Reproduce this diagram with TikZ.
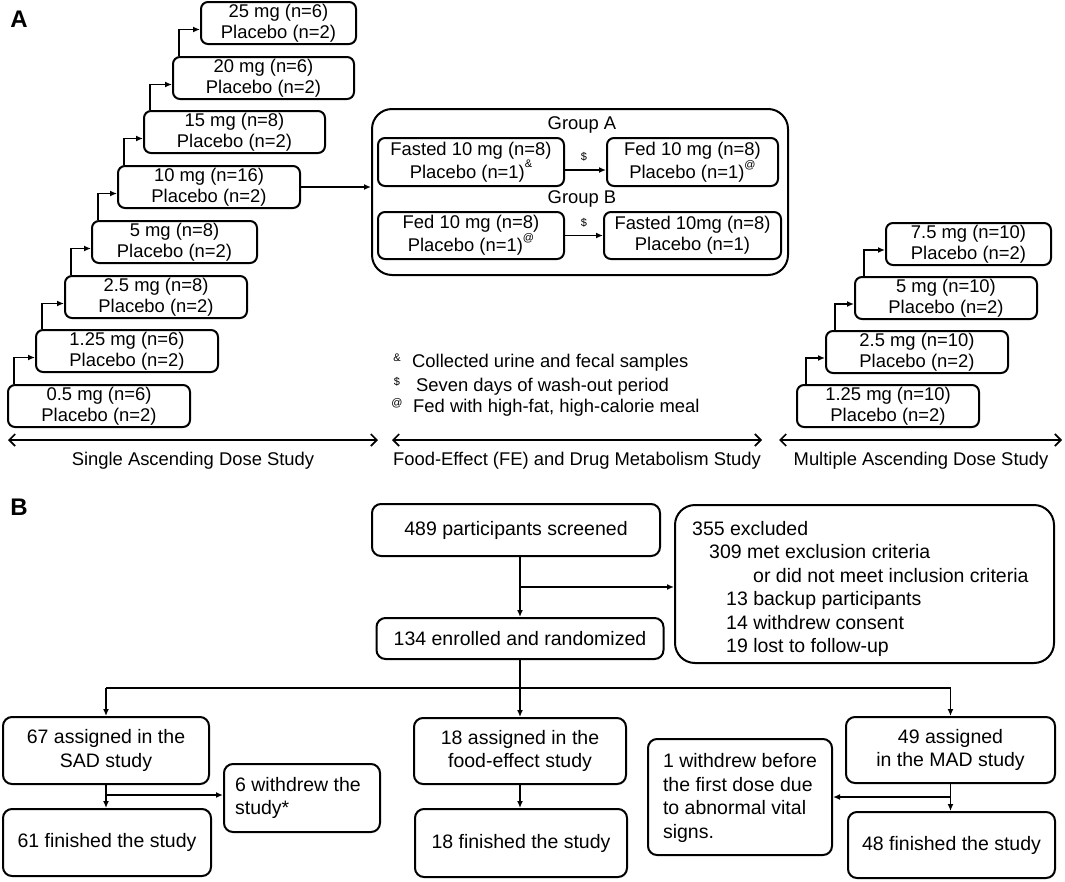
\documentclass[tikz,border=0pt]{standalone}
\usepackage{fontspec}
\setmainfont{Liberation Sans}
\usetikzlibrary{arrows.meta}
\newcommand\fa{\fontsize{18.4}{21}\selectfont}
\newcommand\fb{\fontsize{19.5}{23.5}\selectfont}
\newcommand\fsm{\fontsize{11}{11}\selectfont}
\newcommand\sps[1]{\raisebox{0.55em}{\fsm #1}}
\begin{document}
\begin{tikzpicture}[x=1pt,y=-1pt,
  abox/.style={draw, line width=2pt, rounded corners=7pt, inner sep=0pt, align=center, font=\fa},
  bbox/.style={draw, line width=2pt, rounded corners=9pt, inner sep=0pt, align=center, font=\fb},
  bigbox/.style={draw, line width=2pt, rounded corners=20pt, inner sep=0pt},
  arr/.style={line width=1.7pt, -{Latex[length=7pt,width=6pt]}},
  ln/.style={line width=1.7pt},
  dbl/.style={line width=1.7pt, {Straight Barb[length=6pt,width=12pt]}-{Straight Barb[length=6pt,width=12pt]}},
  lab/.style={font=\fa, inner sep=0pt},
  tiny/.style={font=\fsm, inner sep=0pt}]
\useasboundingbox (0,0) rectangle (1065,881);
\node[font=\bfseries\fontsize{24}{24}\selectfont, inner sep=0pt] (labA) at (19,19) {A};
\node[font=\bfseries\fontsize{24}{24}\selectfont, inner sep=0pt] (labB) at (19,507) {B};
% SAD staircase
\node[abox, minimum width=182pt, minimum height=42pt] (s1) at (99,406) {0.5 mg (n=6)\\Placebo (n=2)};
\node[abox, minimum width=182pt, minimum height=42pt] (s2) at (127,351) {1.25 mg (n=6)\\Placebo (n=2)};
\node[abox, minimum width=182pt, minimum height=42pt] (s3) at (156,297) {2.5 mg (n=8)\\Placebo (n=2)};
\node[abox, minimum width=165pt, minimum height=42pt] (s4) at (174.5,242) {5 mg (n=8)\\Placebo (n=2)};
\node[abox, minimum width=182pt, minimum height=42pt] (s5) at (209,187) {10 mg (n=16)\\Placebo (n=2)};
\node[abox, minimum width=181pt, minimum height=42pt] (s6) at (234.5,132) {15 mg (n=8)\\Placebo (n=2)};
\node[abox, minimum width=181pt, minimum height=42pt] (s7) at (263.5,78) {20 mg (n=6)\\Placebo (n=2)};
\node[abox, minimum width=155pt, minimum height=42pt] (s8) at (278.5,23) {25 mg (n=6)\\Placebo (n=2)};
\foreach \a/\b in {s1/s2,s2/s3,s3/s4,s4/s5,s5/s6,s6/s7,s7/s8}
  \draw[arr] ([xshift=7pt]\a.north west) |- ([yshift=-6.5pt]\b.west);
% Group box
\node[bigbox, minimum width=416pt, minimum height=166pt] (g) at (580,192) {};
\node[lab] (gA) at (582,125) {Group A};
\node[lab] (gB) at (582,199) {Group B};
\node[abox, minimum width=186pt, minimum height=48pt] (ga1) at (471,162) {Fasted 10 mg (n=8)\\Placebo (n=1)\sps{\&}};
\node[abox, minimum width=171pt, minimum height=48pt] (ga2) at (692.5,162) {Fed 10 mg (n=8)\\Placebo (n=1)\sps{@}};
\node[abox, minimum width=186pt, minimum height=47pt] (gb1) at (471,235.5) {Fed 10 mg (n=8)\\Placebo (n=1)\sps{@}};
\node[abox, minimum width=177pt, minimum height=47pt] (gb2) at (692.5,235.5) {Fasted 10mg (n=8)\\Placebo (n=1)};
\draw[arr] (s5.east) -- (s5.east -| g.west);
\draw[arr] ([yshift=-8pt]ga1.east) -- ([yshift=-8pt]ga1.east -| ga2.west);
\draw[arr] (gb1.east) -- (gb1.east -| gb2.west);
\node[tiny] (d1) at (584,157) {\$};
\node[tiny] (d2) at (584,223) {\$};
% footnotes
\node[tiny] (f1s) at (397,358) {\&};
\node[lab, anchor=west] (f1) at (412,363) {Collected urine and fecal samples};
\node[tiny] (f2s) at (397,382) {\$};
\node[lab, anchor=west] (f2) at (416,387) {Seven days of wash-out period};
\node[tiny] (f3s) at (397,403) {@};
\node[lab, anchor=west] (f3) at (413,408) {Fed with high-fat, high-calorie meal};
% MAD staircase
\node[abox, minimum width=182pt, minimum height=42pt] (m1) at (888,406) {1.25 mg (n=10)\\Placebo (n=2)};
\node[abox, minimum width=182pt, minimum height=42pt] (m2) at (917,352) {2.5 mg (n=10)\\Placebo (n=2)};
\node[abox, minimum width=182pt, minimum height=42pt] (m3) at (946,298) {5 mg (n=10)\\Placebo (n=2)};
\node[abox, minimum width=165pt, minimum height=42pt] (m4) at (968.5,244) {7.5 mg (n=10)\\Placebo (n=2)};
\foreach \a/\b in {m1/m2,m2/m3,m3/m4}
  \draw[arr] ([xshift=10pt]\a.north west) |- ([yshift=-6pt]\b.west);
% axes
\coordinate (a1l) at (8,440); \coordinate (a1r) at (378,440);
\coordinate (a2l) at (392,440); \coordinate (a2r) at (762,440);
\coordinate (a3l) at (779,440); \coordinate (a3r) at (1062,440);
\draw[dbl] (a1l) -- (a1r);
\draw[dbl] (a2l) -- (a2r);
\draw[dbl] (a3l) -- (a3r);
\node[lab] (t1) at (193,461) {Single Ascending Dose Study};
\node[lab] (t2) at (577,461) {Food-Effect (FE) and Drug Metabolism Study};
\node[lab] (t3) at (921,461) {Multiple Ascending Dose Study};
% Part B
\node[bbox, minimum width=288pt, minimum height=52pt] (scr) at (516,530) {489 participants screened};
\node[bigbox, minimum width=379pt, minimum height=158pt] (exc) at (864.5,584) {};
\node[font=\fb, align=left, anchor=west, inner sep=0pt] (exct) at (692,589) {355 excluded\\\hspace*{17pt}309 met exclusion criteria\\\hspace*{61pt}or did not meet inclusion criteria\\\hspace*{34pt}13 backup participants\\\hspace*{34pt}14 withdrew consent\\\hspace*{34pt}19 lost to follow-up};
\node[bbox, minimum width=287pt, minimum height=41pt] (enr) at (520,638.5) {134 enrolled and randomized};
\node[bbox, minimum width=206pt, minimum height=67pt] (sad) at (106,750.5) {67 assigned in the\\SAD study};
\node[bbox, minimum width=208pt, minimum height=67pt] (sadf) at (107,842.5) {61 finished the study};
\node[bbox, minimum width=156pt, minimum height=68pt] (sadw) at (302,798) {};
\node[font=\fb, align=left, inner sep=0pt] (sadwt) at (298,798) {6 withdrew the\\study*};
\node[bbox, minimum width=212pt, minimum height=66pt] (fe) at (520,751) {18 assigned in the\\food-effect study};
\node[bbox, minimum width=212pt, minimum height=68pt] (fef) at (521,843) {18 finished the study};
\node[bbox, minimum width=184pt, minimum height=116pt] (madw) at (740,797) {};
\node[font=\fb, align=left, inner sep=0pt] (madwt) at (740,798) {1 withdrew before\\the first dose due\\to abnormal vital\\signs.};
\node[bbox, minimum width=209pt, minimum height=66pt] (mad) at (950.5,750) {49 assigned\\in the MAD study};
\node[bbox, minimum width=207pt, minimum height=66pt] (madf) at (951.5,845) {48 finished the study};
\coordinate (yexc) at (0,587);
\coordinate (ybr) at (0,688);
\coordinate (ysw) at (0,795);
\coordinate (ymw) at (0,797);
\draw[arr] (scr.south -| enr.north) -- (enr.north);
\draw[arr] (enr.north |- yexc) -- (exc.west |- yexc);
\draw[arr] (enr.south) -- (fe.north);
\draw[ln] (sad.north |- ybr) -- (mad.north |- ybr);
\draw[arr] (sad.north |- ybr) -- (sad.north);
\draw[arr] (mad.north |- ybr) -- (mad.north);
\draw[arr] (sad.south) -- (sad.south |- sadf.north);
\draw[arr] (sad.south |- ysw) -- (sadw.west |- ysw);
\draw[arr] (fe.south) -- (fe.south |- fef.north);
\draw[arr] (mad.south) -- (mad.south |- madf.north);
\draw[arr] (mad.south |- ymw) -- (madw.east |- ymw);
\end{tikzpicture}
\end{document}
